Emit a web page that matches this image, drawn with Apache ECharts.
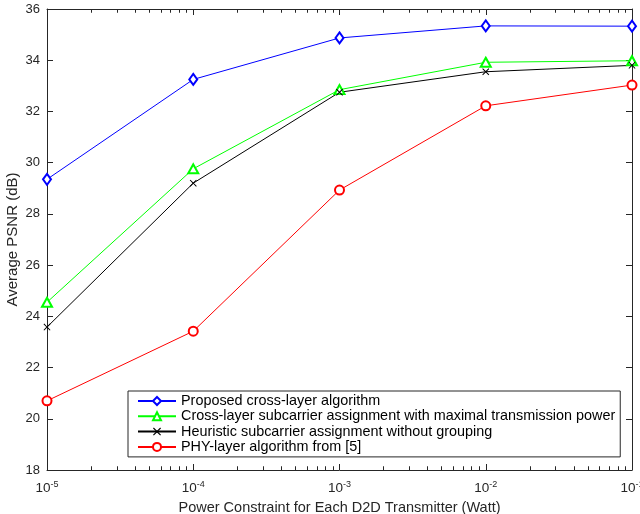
<!DOCTYPE html>
<html><head><meta charset="utf-8">
<script src="https://cdn.jsdelivr.net/npm/echarts@6/dist/echarts.min.js"></script>
<style>html,body{margin:0;padding:0;background:#fff}#c{width:640px;height:514px}</style>
</head><body><div id="c"></div>
<script>
const xValues = [1e-5, 1e-4, 1e-3, 1e-2, 1e-1];
const seriesNames = [
  'Proposed cross-layer algorithm',
  'Cross-layer subcarrier assignment with maximal transmission power',
  'Heuristic subcarrier assignment without grouping',
  'PHY-layer algorithm from [5]'
];
const proposed = [29.35, 33.25, 34.87, 35.34, 35.33];
const crossLayerMax = [24.55, 29.76, 32.85, 33.92, 33.98];
const heuristic = [23.58, 29.2, 32.75, 33.55, 33.8];
const phyLayer = [20.7, 23.42, 28.93, 32.22, 33.03];

const FONT = 'Liberation Sans';
const AX = '#262626';
const chart = echarts.init(document.getElementById('c'));
const pair = arr => arr.map((v, i) => [xValues[i], v]);
const xCross = 'path://M0,1L1,0L5,4L9,0L10,1L6,5L10,9L9,10L5,6L1,10L0,9L4,5Z';
const TL = {color: AX, width: 1};

// main axes
const xMain = {
  type: 'log', min: 1e-5, max: 1e-1, position: 'bottom', gridIndex: 0,
  splitLine: {show: false},
  axisLine: {show: true, lineStyle: {color: AX}},
  axisTick: {show: true, inside: true, length: 6, lineStyle: {color: AX}},
  minorTick: {show: true, splitNumber: 9, length: 3.5, lineStyle: {color: AX}},
  axisLabel: {
    show: true, margin: 10, color: AX, fontFamily: FONT,
    formatter: v => '{b|10}{s|' + Math.round(Math.log10(v)) + '}',
    rich: {b: {fontSize: 13.5, fontFamily: FONT, color: AX},
           s: {fontSize: 9, fontFamily: FONT, color: AX, padding: [0, 0, 8, 0]}}
  },
  name: 'Power Constraint for Each D2D Transmitter (Watt)',
  nameLocation: 'middle', nameGap: 28,
  nameTextStyle: {fontFamily: FONT, fontSize: 14.5, color: AX}
};
const xTopLine = {
  type: 'log', min: 1e-5, max: 1e-1, position: 'top', gridIndex: 0,
  splitLine: {show: false}, axisLabel: {show: false},
  axisLine: {show: true, lineStyle: {color: AX}},
  axisTick: {show: true, inside: true, length: 6, lineStyle: {color: AX}},
  minorTick: {show: true, splitNumber: 9, length: 3.5, lineStyle: {color: AX}}
};
const yMain = {
  type: 'value', min: 18, max: 36, interval: 2, position: 'left', gridIndex: 0,
  splitLine: {show: false},
  axisLine: {show: true, lineStyle: {color: AX}},
  axisTick: {show: true, inside: true, length: 6, lineStyle: {color: AX}},
  axisLabel: {show: true, margin: 7, fontFamily: FONT, fontSize: 13, color: AX},
  name: 'Average PSNR (dB)', nameLocation: 'middle', nameGap: 27, nameMoveOverlap: false,
  nameTextStyle: {fontFamily: FONT, fontSize: 15, color: AX}
};
const yRightLine = {
  type: 'value', min: 18, max: 36, interval: 2, position: 'right', gridIndex: 0,
  splitLine: {show: false}, axisLabel: {show: false},
  axisLine: {show: true, lineStyle: {color: AX}},
  axisTick: {show: true, inside: true, length: 6, lineStyle: {color: AX}}
};

// tick strips: thin grids whose split lines form the inward tick marks
function xTickAxis(gi, major) {
  return {
    type: 'log', min: 1e-5, max: 1e-1, gridIndex: gi,
    axisLine: {show: false}, axisTick: {show: false}, axisLabel: {show: false},
    minorTick: {show: false, splitNumber: 9},
    splitLine: {show: major, lineStyle: TL},
    minorSplitLine: {show: !major, lineStyle: TL}
  };
}
function hiddenValueAxis(gi) {
  return {type: 'value', gridIndex: gi, show: false, min: 0, max: 1};
}
function yTickAxis(gi) {
  return {
    type: 'value', min: 18, max: 36, interval: 2, gridIndex: gi,
    axisLine: {show: false}, axisTick: {show: false}, axisLabel: {show: false},
    splitLine: {show: true, lineStyle: TL}
  };
}

const grids = [
  {left: 47, right: 8, top: 9, bottom: 44, outerBoundsMode: 'none'},
  {left: 47, right: 8, top: 464, height: 6, outerBoundsMode: 'none'},
  {left: 47, right: 8, top: 466.5, height: 3.5, outerBoundsMode: 'none'},
  {left: 47, right: 8, top: 9, height: 6, outerBoundsMode: 'none'},
  {left: 47, right: 8, top: 9, height: 3.5, outerBoundsMode: 'none'},
  {left: 47, width: 6, top: 9, bottom: 44, outerBoundsMode: 'none'},
  {right: 8, width: 6, top: 9, bottom: 44, outerBoundsMode: 'none'}
];

const option = {
  animation: false,
  grid: grids,
  xAxis: [xMain, xTopLine,
          xTickAxis(1, true), xTickAxis(2, false), xTickAxis(3, true), xTickAxis(4, false),
          hiddenValueAxis(5), hiddenValueAxis(6)],
  yAxis: [yMain, yRightLine,
          hiddenValueAxis(1), hiddenValueAxis(2), hiddenValueAxis(3), hiddenValueAxis(4),
          yTickAxis(5), yTickAxis(6)],
  legend: {
    orient: 'vertical', left: 128, top: 391,
    padding: [3, 5, 3, 9], itemGap: 1.3, itemWidth: 38, itemHeight: 10,
    borderColor: AX, borderWidth: 1, backgroundColor: '#fff', borderRadius: 0,
    textStyle: {fontFamily: FONT, fontSize: 14.4, color: '#000'},
    data: seriesNames
  },
  series: [
    {name: seriesNames[0], type: 'line', xAxisIndex: 0, yAxisIndex: 0, data: pair(proposed),
     symbol: 'emptyDiamond', symbolSize: [8, 11],
     lineStyle: {color: '#0000ff', width: 1}, itemStyle: {color: '#0000ff', borderWidth: 1.3}},
    {name: seriesNames[1], type: 'line', xAxisIndex: 0, yAxisIndex: 0, data: pair(crossLayerMax),
     symbol: 'emptyTriangle', symbolSize: [10, 9],
     lineStyle: {color: '#00ff00', width: 1}, itemStyle: {color: '#00ff00', borderWidth: 1.3}},
    {name: seriesNames[2], type: 'line', xAxisIndex: 0, yAxisIndex: 0, data: pair(heuristic),
     symbol: xCross, symbolSize: 7,
     lineStyle: {color: '#000000', width: 1}, itemStyle: {color: '#000000', borderWidth: 0}},
    {name: seriesNames[3], type: 'line', xAxisIndex: 0, yAxisIndex: 0, data: pair(phyLayer),
     symbol: 'emptyCircle', symbolSize: 9,
     lineStyle: {color: '#ff0000', width: 1}, itemStyle: {color: '#ff0000', borderWidth: 1.3}}
  ]
};
chart.setOption(option);
</script></body></html>
